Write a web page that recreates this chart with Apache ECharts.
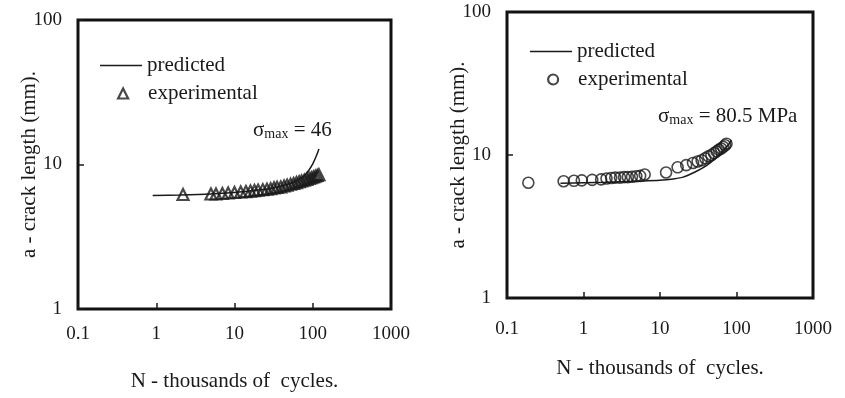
<!DOCTYPE html>
<html>
<head>
<meta charset="utf-8">
<script src="https://cdn.jsdelivr.net/npm/echarts@6/dist/echarts.min.js"></script>
<style>
  html, body { margin: 0; padding: 0; background: #fff; }
  #main { width: 845px; height: 398px; }
</style>
</head>
<body>
<div id="main"></div>
<script>
// left panel, sigma max = 46
var predLeft = [[0.9, 6.1], [2, 6.15], [5, 6.25], [10, 6.4], [20, 6.65], [30, 6.85], [40, 7.1], [50, 7.35],
    [60, 7.65], [70, 8.0], [80, 8.5], [90, 9.2], [100, 10.1], [110, 11.3], [120, 12.8]];
var expLeft = [[2.2, 6.2], [5.0, 6.25], [5.8, 6.25], [7.0, 6.3], [8.3, 6.35], [10, 6.4], [12, 6.45], [14, 6.5],
    [16, 6.55], [18, 6.6], [20, 6.65], [23, 6.7], [26, 6.75], [29, 6.8], [32, 6.9], [35, 6.95], [39, 7.0],
    [43, 7.1], [47, 7.2], [52, 7.3], [57, 7.4], [62, 7.5], [67, 7.6], [72, 7.7], [78, 7.8], [84, 7.9],
    [90, 8.0], [96, 8.1], [102, 8.2], [108, 8.3], [114, 8.4], [120, 8.5]];

// right panel, sigma max = 80.5 MPa
var predRight = [[0.5, 6.35], [1, 6.4], [2, 6.45], [5, 6.55], [10, 6.65], [15, 6.8], [20, 7.0], [30, 7.7],
    [40, 8.4], [50, 9.2], [60, 10.1], [70, 11.0], [80, 12.0], [86, 12.7]];
var expRight = [[0.19, 6.4], [0.55, 6.55], [0.75, 6.6], [0.95, 6.65], [1.3, 6.7], [1.7, 6.75], [2.0, 6.85],
    [2.3, 6.9], [2.6, 6.95], [3.0, 6.95], [3.4, 7.0], [3.8, 7.0], [4.3, 7.05], [4.9, 7.1], [5.5, 7.15],
    [6.3, 7.3], [12, 7.55], [17, 8.2], [22, 8.5], [27, 8.8], [31, 9.0], [35, 9.2], [39, 9.5], [43, 9.8],
    [47, 10.0], [51, 10.3], [55, 10.6], [59, 10.9], [63, 11.1], [67, 11.4], [71, 11.7], [74, 12.0]];

var xTitle = 'N - thousands of  cycles.';
var yTitle = 'a - crack length (mm).';
var noteLeft = '46';
var noteRight = '80.5 MPa';

var serif = '"Liberation Serif", "DejaVu Serif", serif';
var ink = '#1a1a1a';

function xAx(gi) {
    return {
        type: 'log', logBase: 10, gridIndex: gi, min: 0.1, max: 1000,
        name: xTitle, nameLocation: 'middle', nameGap: gi == 0 ? 62 : 60,
        nameTextStyle: {fontFamily: serif, fontSize: 21, color: ink},
        axisLine: {show: false},
        axisTick: {show: true, inside: true, length: 6, lineStyle: {color: ink, width: 1.5}},
        minorTick: {show: false},
        splitLine: {show: false},
        axisLabel: {fontFamily: serif, fontSize: 19, color: ink, margin: gi == 0 ? 16 : 22,
            formatter: function (v) { return String(v); }}
    };
}
function yAx(gi) {
    return {
        type: 'log', logBase: 10, gridIndex: gi, min: 1, max: 100,
        name: yTitle, nameLocation: 'middle', nameGap: 38, nameMoveOverlap: false,
        nameTextStyle: {fontFamily: serif, fontSize: 21, color: ink},
        axisLine: {show: false},
        axisTick: {show: true, inside: true, length: 6, lineStyle: {color: ink, width: 1.5}},
        minorTick: {show: false},
        splitLine: {show: false},
        axisLabel: {fontFamily: serif, fontSize: 19, color: ink, margin: 16,
            formatter: function (v) { return String(v); }}
    };
}
// one legend per row so the line and the marker can have their own icon sizes
function lineKey(left, top) {
    return {
        left: left, top: top, itemWidth: 42, itemHeight: 1.5, icon: 'rect',
        itemStyle: {color: ink, borderWidth: 0},
        textStyle: {fontFamily: serif, fontSize: 21, color: ink},
        data: ['predicted']
    };
}
function markKey(left, top, mark) {
    return {
        left: left, top: top, itemWidth: 10, itemHeight: 10, icon: mark,
        itemStyle: {color: 'rgba(0,0,0,0)', borderColor: ink, borderWidth: 2.2},
        textStyle: {fontFamily: serif, fontSize: 21, color: ink, padding: [0, 0, 0, 15]},
        data: ['experimental']
    };
}
function note(x, y, val) {
    return {
        type: 'text', left: x, top: y,
        style: {
            text: '{s|σ}{m|max}{s| = ' + val + '}',
            fill: ink,
            rich: {
                s: {fontFamily: serif, fontSize: 21, lineHeight: 24, verticalAlign: 'bottom', fill: ink},
                m: {fontFamily: serif, fontSize: 14, lineHeight: 12, verticalAlign: 'bottom', fill: ink}
            }
        }
    };
}

var dom = document.getElementById('main');
var myChart = echarts.init(dom, null, {renderer: 'canvas'});

var option = {
    animation: false,
    backgroundColor: '#fff',
    grid: [
        {left: 78, top: 20, width: 313, height: 289, show: true, borderColor: '#111', borderWidth: 3, backgroundColor: 'transparent'},
        {left: 507, top: 12, width: 306, height: 286, show: true, borderColor: '#111', borderWidth: 3, backgroundColor: 'transparent'}
    ],
    xAxis: [xAx(0), xAx(1)],
    yAxis: [yAx(0), yAx(1)],
    legend: [
        lineKey(95, 50), markKey(112, 78, 'triangle'),
        lineKey(525, 36), markKey(542, 64, 'circle')
    ],
    graphic: [note(253, 120, noteLeft), note(658, 106, noteRight)],
    series: [
        {
            name: 'predicted', type: 'line', xAxisIndex: 0, yAxisIndex: 0,
            data: predLeft, symbol: 'none', smooth: 0.3,
            lineStyle: {color: ink, width: 1.5}, itemStyle: {color: ink}
        },
        {
            name: 'experimental', type: 'scatter', xAxisIndex: 0, yAxisIndex: 0,
            data: expLeft, symbol: 'triangle', symbolSize: 11,
            itemStyle: {color: 'rgba(0,0,0,0)', borderColor: ink, borderWidth: 2.2}
        },
        {
            name: 'predicted', type: 'line', xAxisIndex: 1, yAxisIndex: 1,
            data: predRight, symbol: 'none', smooth: 0.3,
            lineStyle: {color: ink, width: 1.5}, itemStyle: {color: ink}
        },
        {
            name: 'experimental', type: 'scatter', xAxisIndex: 1, yAxisIndex: 1,
            data: expRight, symbol: 'circle', symbolSize: 11,
            itemStyle: {color: 'rgba(0,0,0,0)', borderColor: ink, borderWidth: 1.6}
        }
    ]
};
if (option && typeof option === "object") {
    myChart.setOption(option, true);
}
</script>
</body>
</html>
